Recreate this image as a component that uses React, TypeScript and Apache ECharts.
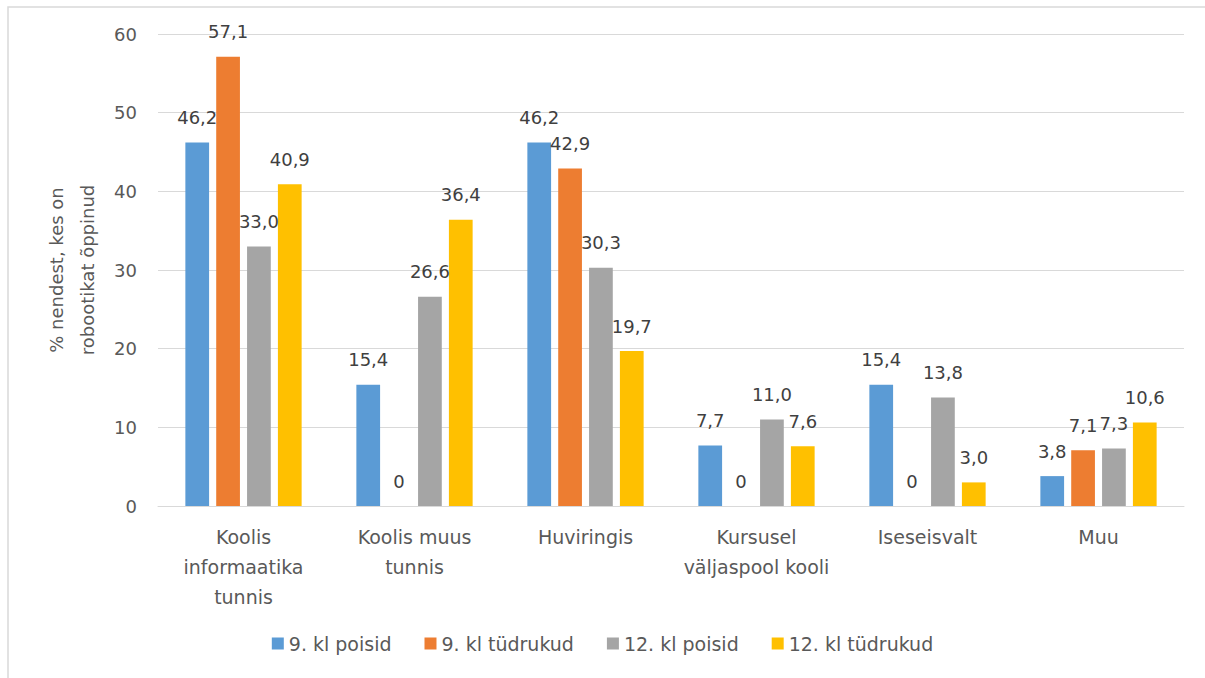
import React, { useEffect, useRef } from "react";
import * as echarts from "echarts";

// Where pupils have learned robotics, by grade and gender (%)
const categories = [
  "Koolis\ninformaatika\ntunnis",
  "Koolis muus\ntunnis",
  "Huviringis",
  "Kursusel\nväljaspool kooli",
  "Iseseisvalt",
  "Muu",
];

const seriesNames = ["9. kl poisid", "9. kl tüdrukud", "12. kl poisid", "12. kl tüdrukud"];

const boys9 = [46.2, 15.4, 46.2, 7.7, 15.4, 3.8];
const girls9 = [57.1, 0, 42.9, 0, 0, 7.1];
const boys12 = [33.0, 26.6, 30.3, 11.0, 13.8, 7.3];
const girls12 = [40.9, 36.4, 19.7, 7.6, 3.0, 10.6];

const seriesValues = [boys9, girls9, boys12, girls12];
const colors = ["#5B9BD5", "#ED7D31", "#A5A5A5", "#FFC000"];

const yTicks = { min: 0, max: 60, interval: 10 };
const yTitle = "% nendest, kes on\nrobootikat õppinud";

const FONT = "'DejaVu Sans', 'Noto Sans', sans-serif";

const fmt = (v: number) => (v === 0 ? "0" : v.toFixed(1).replace(".", ","));

export default function App() {
  const ref = useRef<HTMLDivElement>(null);

  useEffect(() => {
    if (!ref.current) return;
    const chart = echarts.init(ref.current, null, { renderer: "svg" });
    chart.setOption({
      animation: false,
      backgroundColor: "#ffffff",
      textStyle: { fontFamily: FONT },
      graphic: [
        {
          type: "rect",
          shape: { x: 8, y: 7, width: 1250, height: 720 },
          style: { fill: "none", stroke: "#d9d9d9", lineWidth: 1.5 },
          silent: true,
        },
      ],
      grid: { left: 158, right: 21, top: 34, bottom: 172 },
      legend: {
        data: seriesNames,
        bottom: 20,
        left: "center",
        icon: "rect",
        itemWidth: 12,
        itemHeight: 12,
        itemGap: 33,
        textStyle: { color: "#595959", fontSize: 19, fontFamily: FONT },
      },
      xAxis: {
        type: "category",
        data: categories,
        axisLine: { lineStyle: { color: "#d9d9d9", width: 1 } },
        axisTick: { show: false },
        axisLabel: {
          color: "#595959",
          fontSize: 19,
          lineHeight: 30,
          margin: 16,
          interval: 0,
          fontFamily: FONT,
        },
      },
      yAxis: {
        type: "value",
        min: yTicks.min,
        max: yTicks.max,
        interval: yTicks.interval,
        name: yTitle,
        nameLocation: "middle",
        nameRotate: 90,
        nameGap: 51,
        nameTextStyle: {
          color: "#595959",
          fontSize: 18,
          lineHeight: 31,
          fontFamily: FONT,
        },
        axisLine: { show: false },
        axisTick: { show: false },
        splitLine: { lineStyle: { color: "#d9d9d9", width: 1 } },
        axisLabel: { color: "#595959", fontSize: 18, margin: 21, fontFamily: FONT },
      },
      series: seriesValues.map((vals, i) => ({
        name: seriesNames[i],
        type: "bar",
        data: vals,
        barGap: "30%",
        barCategoryGap: "32%",
        itemStyle: { color: colors[i] },
        label: {
          show: true,
          position: "top",
          distance: 16,
          color: "#404040",
          fontSize: 18,
          fontFamily: FONT,
          formatter: (p: any) => fmt(p.value),
        },
      })),
    });
    return () => chart.dispose();
  }, []);

  return (
    <div
      ref={ref}
      style={{ position: "fixed", left: 0, top: 0, width: 1205, height: 678 }}
    />
  );
}
